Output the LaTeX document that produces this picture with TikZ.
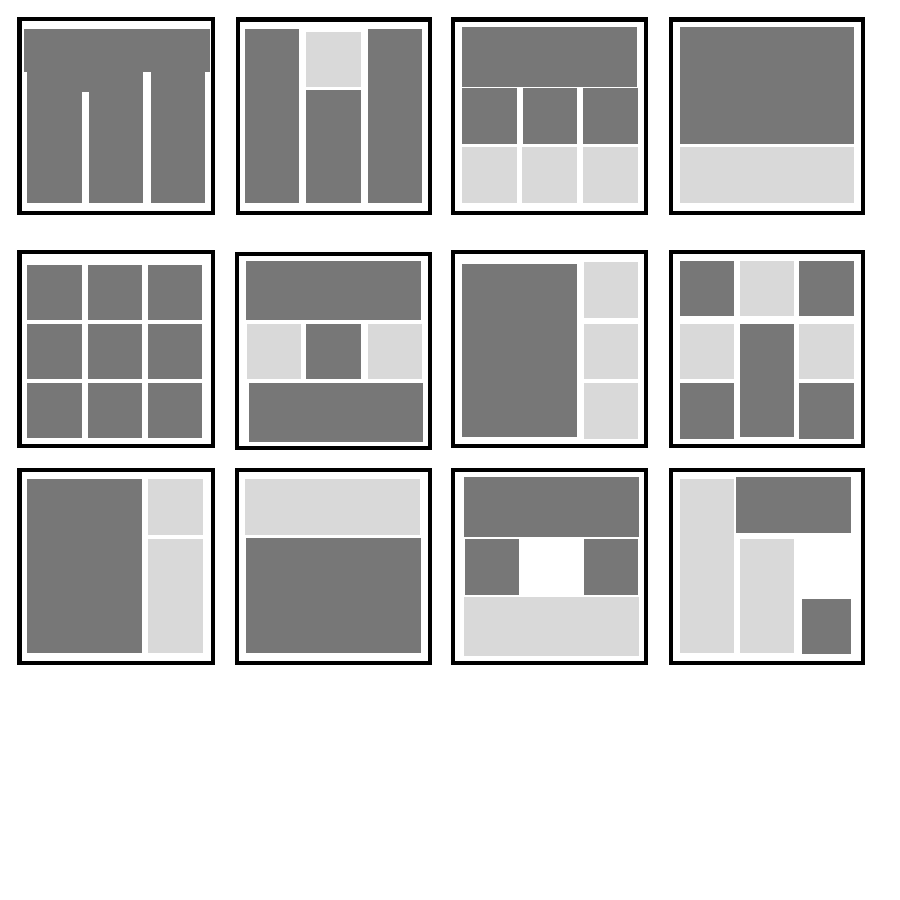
\documentclass[tikz,border=0pt]{standalone}
\definecolor{dkgray}{HTML}{777777}
\definecolor{ltgray}{HTML}{D9D9D9}
\tikzset{
  frame/.style={draw=black, line width=0.04cm, fill=white},
  dk/.style={fill=dkgray},
  lt/.style={fill=ltgray}
}
\begin{document}
\begin{tikzpicture}[x=0.01cm, y=-0.01cm]
\useasboundingbox[fill=white] (0,0) rectangle (900,900);
% ---------- row 1 ----------
% panel 1
\draw[frame] (19.5,19) rectangle (213,213);
\fill[dk] (24,28.5) rectangle (210,72.3);
\fill[dk] (27.3,28.5) rectangle (82.3,202.7);
\fill[dk] (82,72) rectangle (89.5,91.7);
\fill[dk] (89,28.5) rectangle (143.3,202.7);
\fill[dk] (150.7,28.5) rectangle (205,202.7);
\fill[white] (68.3,28.3) rectangle (71.7,29.3);
\fill[white] (163.3,28.3) rectangle (166.7,29.3);
% panel 2
\draw[frame] (237.5,19.5) rectangle (430,213);
\fill[dk] (244.7,29.3) rectangle (299,202.7);
\fill[lt] (306.3,31.7) rectangle (360.7,86.7);
\fill[dk] (306.3,90) rectangle (360.7,202.7);
\fill[dk] (368,29.3) rectangle (422.3,202.7);
% panel 3
\draw[frame] (453,19.5) rectangle (646,213);
\fill[dk] (462.3,26.7) rectangle (637.3,86.7);
\fill[dk] (462.3,88.3) rectangle (516.7,144);
\fill[dk] (523.3,88.3) rectangle (577.3,144);
\fill[dk] (583.3,88.3) rectangle (637.7,144);
\fill[lt] (462.3,147.3) rectangle (516.7,202.7);
\fill[lt] (522.3,147.3) rectangle (577,202.7);
\fill[lt] (583.3,147.3) rectangle (637.7,202.7);
% panel 4
\draw[frame] (670.5,19.5) rectangle (863,213);
\fill[dk] (680,26.7) rectangle (854.3,144);
\fill[lt] (680,147.3) rectangle (854.3,202.7);
% ---------- row 2 ----------
% panel 5
\draw[frame] (19.5,252) rectangle (213,446);
\foreach \xa/\xb in {27.3/81.7, 88.3/142.3, 148.3/202.3}{
  \foreach \ya/\yb in {264.7/319.7, 323.7/379, 383/438}{
    \fill[dk] (\xa,\ya) rectangle (\xb,\yb);
  }
}
% panel 6
\draw[frame] (236.8,253.5) rectangle (430,447.5);
\fill[dk] (246.3,260.7) rectangle (421.3,320.3);
\fill[lt] (247,323.7) rectangle (300.7,378.7);
\fill[dk] (306.3,323.7) rectangle (360.7,378.7);
\fill[lt] (368,323.7) rectangle (422.3,378.7);
\fill[dk] (248.7,383) rectangle (423,442.3);
% panel 7
\draw[frame] (453,252) rectangle (646,446);
\fill[dk] (462.3,263.7) rectangle (576.7,437);
\fill[lt] (584,262.3) rectangle (638.3,318);
\fill[lt] (584,323.7) rectangle (638.3,379);
\fill[lt] (584,383) rectangle (638.3,438.7);
% panel 8
\draw[frame] (670.5,252) rectangle (863,446);
\fill[dk] (680,260.7) rectangle (734,316.3);
\fill[lt] (740,260.7) rectangle (794,316.3);
\fill[dk] (799,260.7) rectangle (854,316.3);
\fill[lt] (680,323.7) rectangle (734,379);
\fill[dk] (740,323.7) rectangle (794,437);
\fill[lt] (799,323.7) rectangle (854,379);
\fill[dk] (680,383) rectangle (734,438.7);
\fill[dk] (799,383) rectangle (854,438.7);
% ---------- row 3 ----------
% panel 9
\draw[frame] (19.5,469.5) rectangle (213,663);
\fill[dk] (27.3,479.3) rectangle (141.7,652.7);
\fill[lt] (148.3,479.3) rectangle (202.7,535);
\fill[lt] (148.3,539) rectangle (202.7,652.7);
% panel 10
\draw[frame] (236.8,469.5) rectangle (430,663);
\fill[lt] (244.7,479.3) rectangle (420.3,535);
\fill[dk] (246.3,538.3) rectangle (421.3,652.7);
% panel 11
\draw[frame] (453,469.5) rectangle (646,663);
\fill[dk] (464,477.3) rectangle (639,536.7);
\fill[dk] (465,539) rectangle (519,595);
\fill[dk] (583.7,539) rectangle (638.3,595);
\fill[lt] (464,596.7) rectangle (639,656);
% panel 12
\draw[frame] (670.5,469.5) rectangle (863,663);
\fill[lt] (680,479.3) rectangle (734,652.7);
\fill[dk] (736,477.3) rectangle (850.7,532.7);
\fill[lt] (740,539) rectangle (794,652.7);
\fill[dk] (802,599) rectangle (851.3,654);
\end{tikzpicture}
\end{document}
